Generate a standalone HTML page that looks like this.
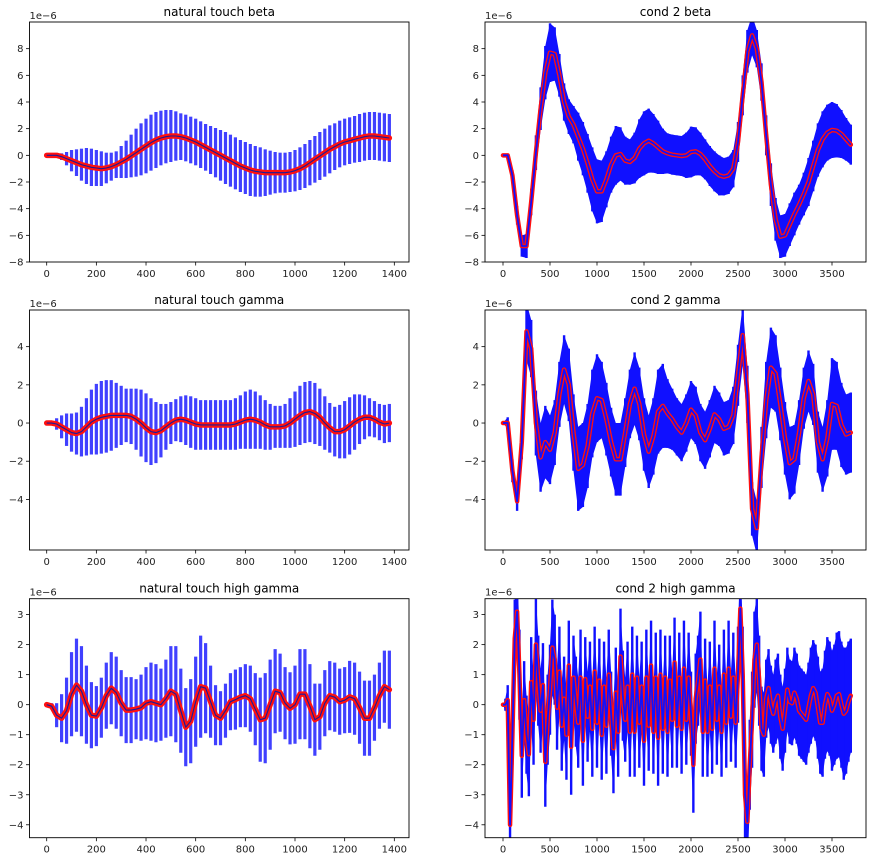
<!DOCTYPE html>
<html><head><meta charset="utf-8"><style>
html,body{margin:0;padding:0;background:#fff;}
svg{display:block;font-family:"DejaVu Sans","Liberation Sans",sans-serif;}
</style></head><body>
<svg id="fig" width="873" height="862" viewBox="0 0 873 862" xmlns="http://www.w3.org/2000/svg"></svg>
<script>
// ---------- data ----------
const ntBetaStep = 20;
const ntBetaMean = [0,0,0,-0.1,-0.25,-0.4,-0.55,-0.7,-0.8,-0.9,-0.95,-1.0,-0.95,-0.85,-0.7,-0.5,-0.3,-0.05,0.2,0.45,0.7,0.95,1.15,1.3,1.4,1.45,1.45,1.4,1.3,1.15,1.0,0.8,0.6,0.4,0.2,0,-0.2,-0.4,-0.6,-0.8,-0.95,-1.1,-1.2,-1.25,-1.3,-1.3,-1.3,-1.3,-1.3,-1.25,-1.15,-1.0,-0.8,-0.55,-0.3,-0.05,0.2,0.45,0.65,0.85,1.0,1.1,1.2,1.3,1.4,1.45,1.45,1.4,1.35,1.3];
const ntBetaErr = [0,0.05,0.1,0.25,0.5,0.8,1.0,1.2,1.35,1.4,1.35,1.3,1.15,1.05,1.0,1.2,1.4,1.6,1.8,1.95,2.05,2.1,2.1,2.05,2.0,1.95,1.85,1.75,1.75,1.75,1.75,1.75,1.75,1.8,1.85,1.9,1.95,1.95,1.95,1.95,1.95,1.95,1.9,1.85,1.75,1.65,1.55,1.5,1.5,1.5,1.55,1.6,1.65,1.7,1.75,1.8,1.8,1.8,1.75,1.75,1.75,1.75,1.75,1.8,1.8,1.8,1.8,1.8,1.8,1.8];

const ntGammaStep = 20;
const ntGammaMean = [0,0,-0.05,-0.2,-0.35,-0.5,-0.55,-0.45,-0.2,0.05,0.2,0.3,0.35,0.4,0.4,0.4,0.4,0.35,0.2,0,-0.25,-0.45,-0.5,-0.4,-0.2,0,0.15,0.2,0.15,0.05,-0.05,-0.1,-0.1,-0.1,-0.1,-0.1,-0.1,-0.1,-0.05,0.05,0.15,0.2,0.15,0.05,-0.1,-0.2,-0.2,-0.2,-0.15,0,0.2,0.4,0.55,0.6,0.5,0.3,0,-0.25,-0.45,-0.45,-0.35,-0.15,0.05,0.2,0.3,0.3,0.2,0.05,-0.05,0];
const ntGammaErr = [0,0.1,0.3,0.6,0.85,1.0,1.1,1.3,1.5,1.7,1.85,1.9,1.9,1.85,1.7,1.55,1.4,1.45,1.6,1.75,1.8,1.75,1.6,1.4,1.2,1.1,1.1,1.2,1.3,1.35,1.35,1.3,1.3,1.3,1.3,1.3,1.3,1.3,1.35,1.4,1.5,1.55,1.5,1.4,1.3,1.2,1.1,1.1,1.15,1.3,1.45,1.55,1.6,1.6,1.6,1.5,1.4,1.3,1.3,1.4,1.5,1.5,1.45,1.3,1.15,1.0,0.95,0.95,1.0,1.0];

const ntHighStep = 20;
const ntHighMean = [0,-0.05,-0.35,-0.45,-0.2,0.35,0.65,0.45,0,-0.35,-0.38,-0.1,0.3,0.55,0.4,0.05,-0.18,-0.18,-0.15,-0.1,0.05,0.1,0.05,0,0.2,0.45,0.35,-0.2,-0.75,-0.55,0.1,0.6,0.55,0.1,-0.35,-0.45,-0.2,0.1,0.17,0.25,0.3,0.2,-0.15,-0.5,-0.45,0,0.45,0.4,0.05,-0.12,0,0.35,0.35,-0.05,-0.5,-0.4,0.05,0.3,0.25,0.1,0.15,0.26,0.2,-0.1,-0.45,-0.45,-0.1,0.3,0.6,0.5];
const ntHighErr = [0,0.1,0.4,0.8,1.1,1.4,1.55,1.5,1.3,1.1,1.0,1.0,1.1,1.2,1.2,1.1,1.1,1.1,1.0,1.1,1.2,1.3,1.3,1.2,1.3,1.5,1.6,1.4,1.3,1.4,1.5,1.7,1.5,1.2,1.0,0.9,0.9,0.95,1.0,1.0,1.05,1.1,1.2,1.4,1.5,1.5,1.4,1.3,1.2,1.2,1.3,1.5,1.5,1.4,1.2,1.1,1.1,1.15,1.15,1.1,1.1,1.2,1.2,1.2,1.25,1.25,1.1,1.1,1.2,1.3];

const c2BetaStep = 50;
const c2BetaMean = [0,0,-1.5,-4.5,-6.8,-6.8,-3.5,0.2,3.5,6.2,7.7,7.6,6.0,4.0,2.9,2.3,1.4,0.5,-0.6,-1.8,-2.7,-2.7,-1.8,-0.7,0,0.1,-0.4,-0.5,-0.2,0.5,0.9,1.1,0.9,0.6,0.3,0.15,0.05,0,-0.05,0,0.25,0.3,0.1,-0.3,-0.8,-1.2,-1.5,-1.6,-1.5,-1.0,1.0,4.5,7.8,9.0,8.0,5.5,1.5,-2.2,-4.8,-6.1,-6.0,-5.2,-4.4,-3.7,-2.9,-2.0,-0.8,0.4,1.2,1.7,1.9,1.85,1.6,1.2,0.8];
const c2BetaErr = [0,0.1,0.4,0.7,0.8,0.9,1.0,1.3,1.6,2.0,2.2,2.0,1.6,1.4,1.3,1.4,1.8,2.0,2.2,2.4,2.4,2.3,2.1,2.1,2.2,2.0,1.8,1.7,1.9,2.2,2.4,2.4,2.2,2.0,1.7,1.5,1.5,1.5,1.5,1.7,1.9,1.8,1.6,1.5,1.5,1.5,1.5,1.4,1.4,1.4,1.5,1.5,1.6,1.5,1.4,1.4,1.5,1.6,1.6,1.6,1.6,1.6,1.6,1.5,1.6,1.8,1.9,2.0,2.1,2.1,2.1,2.0,1.8,1.6,1.5];

const c2GammaStep = 50;
const c2GammaMean = [0,0,-2.5,-4.1,-1.0,4.8,3.9,0,-1.8,-1.0,-1.4,-0.5,1.5,2.8,2.0,-0.5,-2.4,-2.2,-1.2,0.5,1.3,1.2,0.2,-1.0,-1.9,-1.9,-0.5,1.0,1.8,1.0,-0.6,-1.5,-0.7,0.6,0.9,0.5,0.2,-0.2,-0.5,0,0.7,0.4,-0.5,-0.9,-0.3,0.45,0.2,-0.3,-0.2,0.4,2.5,4.6,1.5,-4.5,-5.5,-1.8,1.2,2.9,2.6,1.0,-0.8,-2.1,-1.9,-0.5,1.3,2.2,1.5,-1.0,-1.9,-0.8,1.0,0.9,-0.1,-0.6,-0.5];
const c2GammaErr = [0,0.3,0.6,0.5,0.9,1.5,1.5,1.7,1.8,1.9,1.8,1.7,1.7,1.8,1.9,2.0,2.2,2.2,2.2,2.3,2.3,2.0,1.9,1.8,1.9,1.9,1.8,1.8,1.9,1.9,1.9,1.9,2.0,2.2,2.2,1.8,1.6,1.5,1.5,1.5,1.5,1.5,1.5,1.5,1.5,1.5,1.4,1.4,1.4,1.5,1.6,1.6,1.5,1.4,1.4,1.6,2.0,2.1,2.0,1.9,1.9,1.9,1.8,1.7,1.6,1.6,1.6,1.6,1.7,2.0,2.4,2.3,2.2,2.1,2.1];

const c2HighStep = 25;
const c2HighMean = [0,0,0.15,-4.0,-1.0,2.2,3.1,1.0,-1.7,0.15,-1.0,-1.65,0.75,-0.5,2.0,0.8,-0.2,0.65,-1.9,-0.5,
0.5,1.9,1.5,-0.1,1.1,-0.7,0.2,-1.0,1.3,-1.4,0.9,0.1,-0.6,0.9,-1.2,0.85,-0.4,0.6,-0.8,1.1,
-0.6,0.8,-1.0,0.6,-0.7,1.0,-0.3,-1.45,0.4,-0.9,1.6,0.3,-0.5,0.6,-0.9,1.0,-0.9,0.9,-0.6,0.6,
-1.2,0.9,-0.7,1.3,-0.9,0.9,-1.1,1.0,-0.8,0.9,-0.9,0.8,-0.5,1.4,-0.7,0.9,-0.8,1.2,-0.5,0.9,
-0.3,-2.0,0.2,0.8,1.5,-0.9,0.8,-0.9,0.6,-0.8,1.2,-0.5,0.6,-0.9,1.0,-0.6,1.2,-0.4,0.9,-0.6,
1.0,3.2,1.0,-3.0,-3.9,-2.0,-0.5,1.5,2.0,0.8,-0.8,-1.0,0.2,0.55,0,-0.3,0.1,0.3,-0.4,-0.8,
-0.2,0.5,0.1,0.05,0.4,0.2,-0.2,-0.3,-0.4,-0.5,-0.1,0.3,0.55,0.4,-0.1,-0.6,-0.6,0,0.35,0.2,
-0.2,0,0.3,0.35,0,-0.3,-0.2,0.1,0.3];
const c2HighErr = [0,0.2,0.5,0.8,1.0,1.3,1.5,1.5,1.4,1.3,1.3,1.4,1.5,1.5,1.6,1.5,1.4,1.4,1.5,1.5,
1.5,1.6,1.5,1.4,1.5,1.5,1.4,1.5,1.5,1.6,1.4,1.5,1.5,1.6,1.5,1.4,1.5,1.5,1.6,1.5,
1.5,1.4,1.5,1.5,1.6,1.5,1.4,1.5,1.5,1.5,1.6,1.5,1.4,1.5,1.5,1.6,1.5,1.4,1.5,1.5,
1.5,1.6,1.5,1.5,1.4,1.5,1.6,1.5,1.5,1.4,1.5,1.5,1.6,1.5,1.4,1.5,1.5,1.6,1.5,1.5,
1.4,1.6,1.5,1.5,1.6,1.5,1.4,1.5,1.5,1.5,1.6,1.5,1.4,1.5,1.5,1.5,1.6,1.5,1.5,1.5,
1.6,1.7,1.6,1.5,1.4,1.5,1.6,1.6,1.6,1.5,1.4,1.4,1.3,1.3,1.3,1.3,1.4,1.4,1.4,1.4,
1.4,1.4,1.4,1.4,1.5,1.5,1.5,1.5,1.5,1.5,1.5,1.6,1.6,1.6,1.7,1.7,1.8,1.8,1.9,1.9,
2.0,2.0,2.1,2.1,2.1,2.2,2.1,2.0,1.9];

const xTicksLeft = [0,200,400,600,800,1000,1200,1400];
const xTicksRight = [0,500,1000,1500,2000,2500,3000,3500];
const yTicksRow1 = [-8,-6,-4,-2,0,2,4,6,8];
const yTicksRow2 = [-4,-2,0,2,4];
const yTicksRow3 = [-4,-3,-2,-1,0,1,2,3];

// ---------- layout ----------
const NS = 'http://www.w3.org/2000/svg';
const svg = document.getElementById('fig');
function mk(tag, attrs, parent){
  const e = document.createElementNS(NS, tag);
  for (const k in attrs) e.setAttribute(k, attrs[k]);
  (parent||svg).appendChild(e);
  return e;
}
const colL = {left:29.5, right:409, x0:46.7, xs:0.2483};
const colR = {left:485, right:866, x0:503, xs:0.0940};
const rowsY = [
  {top:22, bottom:262, ymin:-8, ymax:10},
  {top:310, bottom:550, ymin:-6.65, ymax:5.92},
  {top:598.7, bottom:837.7, ymin:-4.43, ymax:3.53}
];
const panels = [
  {name:'natural-touch-beta', title:'natural touch beta', col:colL, row:rowsY[0], step:ntBetaStep, mean:ntBetaMean, err:ntBetaErr, xt:xTicksLeft, yt:yTicksRow1, dense:false},
  {name:'cond2-beta', title:'cond 2 beta', col:colR, row:rowsY[0], step:c2BetaStep, mean:c2BetaMean, err:c2BetaErr, xt:xTicksRight, yt:yTicksRow1, dense:true},
  {name:'natural-touch-gamma', title:'natural touch gamma', col:colL, row:rowsY[1], step:ntGammaStep, mean:ntGammaMean, err:ntGammaErr, xt:xTicksLeft, yt:yTicksRow2, dense:false},
  {name:'cond2-gamma', title:'cond 2 gamma', col:colR, row:rowsY[1], step:c2GammaStep, mean:c2GammaMean, err:c2GammaErr, xt:xTicksRight, yt:yTicksRow2, dense:true},
  {name:'natural-touch-high-gamma', title:'natural touch high gamma', col:colL, row:rowsY[2], step:ntHighStep, mean:ntHighMean, err:ntHighErr, xt:xTicksLeft, yt:yTicksRow3, dense:false},
  {name:'cond2-high-gamma', title:'cond 2 high gamma', col:colR, row:rowsY[2], step:c2HighStep, mean:c2HighMean, err:c2HighErr, xt:xTicksRight, yt:yTicksRow3, dense:true}
];

panels.forEach((p, pi) => {
  const c = p.col, r = p.row;
  const sx = v => c.x0 + v * c.xs;
  const sy = v => r.bottom - (v - r.ymin) / (r.ymax - r.ymin) * (r.bottom - r.top);
  const g = mk('g', {});
  
  
  const clipId = 'clip' + pi;
  const cp = mk('clipPath', {id: clipId}, g);
  mk('rect', {x:c.left, y:r.top, width:c.right-c.left, height:r.bottom-r.top}, cp);
  const plot = mk('g', {'clip-path':'url(#'+clipId+')'}, g);
  
  

  if (p.dense) {
    let up = [], lo = [];
    p.mean.forEach((m, i) => {
      up.push(sx(i*p.step).toFixed(2)+','+sy(m+p.err[i]).toFixed(2));
      lo.unshift(sx(i*p.step).toFixed(2)+','+sy(m-p.err[i]).toFixed(2));
    });
    const band = mk('polygon', {points: up.concat(lo).join(' '), fill:'#1010ff'}, plot);
    
    
  }
  p.mean.forEach((m, i) => {
    const x = sx(i*p.step);
    const b = mk('line', {x1:x, x2:x, y1:sy(m+p.err[i]), y2:sy(m-p.err[i]),
      stroke: p.dense ? '#1010ff' : '#0000ff', 'stroke-opacity': p.dense ? 1 : 0.75,
      'stroke-width': p.dense ? 2.4 : 3.2}, plot);
    
    
  });
  const pts = p.mean.map((m, i) => sx(i*p.step).toFixed(2)+','+sy(m).toFixed(2)).join(' ');
  const red = mk('polyline', {points:pts, fill:'none', stroke:'#ff1010', 'stroke-width': p.dense ? 4.5 : 5.5, 'stroke-linejoin':'round', 'stroke-linecap':'round'}, plot);
  
  
  const inner = mk('polyline', {points:pts, fill:'none', stroke: p.dense ? '#1010ff' : '#1a1a9a', 'stroke-width': p.dense ? 1.8 : 1.1, 'stroke-linejoin':'round'}, plot);
  
  

  const frame = mk('rect', {x:c.left, y:r.top, width:c.right-c.left, height:r.bottom-r.top, fill:'none', stroke:'#000', 'stroke-width':0.9}, g);
  
  

  p.xt.forEach(t => {
    const x = sx(t);
    mk('line', {x1:x, x2:x, y1:r.bottom, y2:r.bottom+3.5, stroke:'#000', 'stroke-width':0.8}, g);
    const tx = mk('text', {x:x, y:r.bottom+15, 'text-anchor':'middle', 'font-size':10, fill:'#222'}, g);
    tx.textContent = String(t);
    
    
  });
  p.yt.forEach(t => {
    const y = sy(t);
    mk('line', {x1:c.left-3.5, x2:c.left, y1:y, y2:y, stroke:'#000', 'stroke-width':0.8}, g);
    const ty = mk('text', {x:c.left-6, y:y+3.5, 'text-anchor':'end', 'font-size':10, fill:'#222'}, g);
    ty.textContent = t < 0 ? '\u2212' + Math.abs(t) : String(t);
    
    
  });
  const off = mk('text', {x:c.left, y:r.top-3, 'font-size':10, fill:'#222'}, g);
  off.textContent = '1e\u22126';
  
  
  const title = mk('text', {x:(c.left+c.right)/2, y:r.top-6, 'text-anchor':'middle', 'font-size':12, fill:'#000'}, g);
  title.textContent = p.title;
  
  
});
</script>
</body></html>
